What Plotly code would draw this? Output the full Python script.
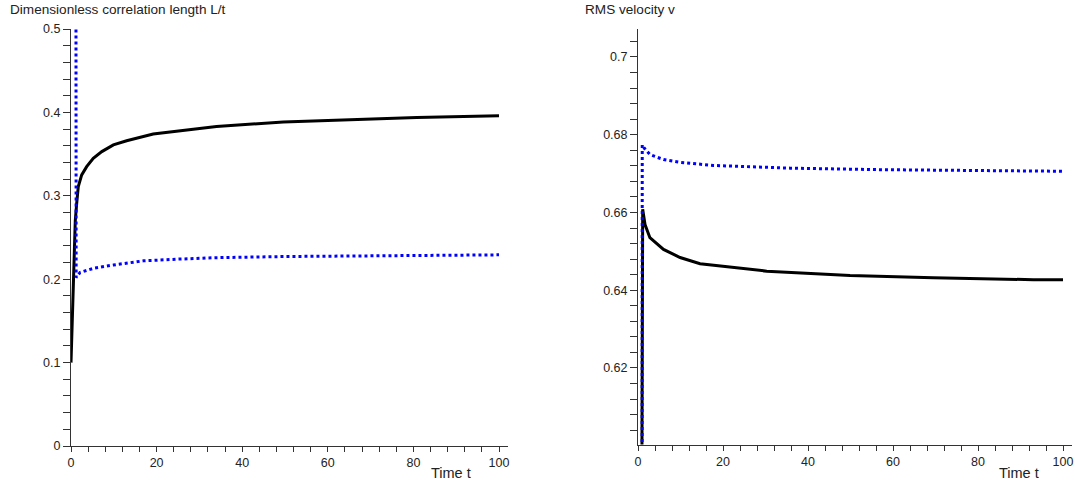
import plotly.graph_objects as go

# ---- Left panel: dimensionless correlation length L/t ----
t_L_black = [0, 0.3, 0.6, 1.0, 1.33, 1.7, 2.5, 3.66, 5.2, 7.2, 9.9, 13, 19.2, 27, 34, 49.6, 65.2, 80.8, 100]
L_black = [0.1, 0.16, 0.22, 0.27, 0.291, 0.311, 0.325, 0.335, 0.345, 0.353, 0.361, 0.366, 0.374, 0.379, 0.383, 0.3885, 0.3917, 0.394, 0.396]

t_L_blue = [1.15, 1.2, 2.1, 5.2, 9.9, 16.9, 24.7, 34, 50, 70, 85, 100]
L_blue = [0.6, 0.202, 0.208, 0.213, 0.217, 0.222, 0.224, 0.2258, 0.2272, 0.2283, 0.2288, 0.2292]

# ---- Right panel: RMS velocity v ----
t_v_black = [0.8, 1.1, 1.65, 2.8, 6, 9.9, 14.6, 30.3, 49.9, 69.5, 93, 100]
v_black = [0.55, 0.6608, 0.6569, 0.6535, 0.6505, 0.6484, 0.6468, 0.6449, 0.6438, 0.6432, 0.6427, 0.6427]

t_v_blue = [0.95, 1.0, 1.5, 2.8, 6, 9.9, 17.7, 29.5, 35.8, 57.7, 80, 100]
v_blue = [0.55, 0.6774, 0.6765, 0.6749, 0.6736, 0.6729, 0.6721, 0.6716, 0.6714, 0.6710, 0.6708, 0.6706]

x_ticks = [0, 20, 40, 60, 80, 100]
x_ticktext = ["0", "20", "40", "60", "80", "100"]
yL_ticks = [0, 0.1, 0.2, 0.3, 0.4, 0.5]
yL_ticktext = ["0", "0.1", "0.2", "0.3", "0.4", "0.5"]
yv_ticks = [0.62, 0.64, 0.66, 0.68, 0.7]
yv_ticktext = ["0.62", "0.64", "0.66", "0.68", "0.7"]

W, H = 1075, 483
BLUE = "#0000ff"
AX = "#333333"
FONT = "Liberation Sans, Arial, sans-serif"

fig = go.Figure()
fig.add_trace(go.Scatter(x=t_L_black, y=L_black, mode="lines", xaxis="x", yaxis="y",
                         line=dict(color="black", width=3), showlegend=False))
fig.add_trace(go.Scatter(x=t_L_blue, y=L_blue, mode="lines", xaxis="x", yaxis="y",
                         line=dict(color=BLUE, width=3, dash="dot"), showlegend=False))
fig.add_trace(go.Scatter(x=t_v_black, y=v_black, mode="lines", xaxis="x2", yaxis="y2",
                         line=dict(color="black", width=3), showlegend=False))
fig.add_trace(go.Scatter(x=t_v_blue, y=v_blue, mode="lines", xaxis="x2", yaxis="y2",
                         line=dict(color=BLUE, width=3, dash="dot"), showlegend=False))

def xaxis(dom, anchor):
    return dict(domain=dom, anchor=anchor, range=[0, 102], tickmode="array",
                tickvals=x_ticks, ticktext=x_ticktext, ticks="outside", ticklen=5,
                tickcolor=AX, showline=True, linecolor=AX, linewidth=1,
                showgrid=False, zeroline=False, automargin=False,
                minor=dict(dtick=4, tick0=0, ticks="outside", ticklen=5, tickcolor=AX, showgrid=False),
                tickfont=dict(size=12.5, color="#222"))

def yaxis(dom, anchor, rng, tv, tt, mdt, m0):
    return dict(domain=dom, anchor=anchor, range=rng, tickmode="array",
                tickvals=tv, ticktext=tt, ticks="outside", ticklen=7,
                tickcolor=AX, showline=True, linecolor=AX, linewidth=1,
                showgrid=False, zeroline=False, automargin=False,
                minor=dict(dtick=mdt, tick0=m0, ticks="outside", ticklen=7, tickcolor=AX, showgrid=False),
                tickfont=dict(size=12.5, color="#222"))

yL_dom = [(H - 446) / H, (H - 29) / H]
yv_dom = [(H - 444.5) / H, (H - 29) / H]

fig.update_layout(
    template="none",
    width=W, height=H,
    margin=dict(l=0, r=0, t=0, b=0, pad=0),
    paper_bgcolor="white", plot_bgcolor="white",
    font=dict(family=FONT, size=12, color="#222"),
    xaxis=xaxis([71 / W, (71 + 102 * 4.28) / W], "y"),
    yaxis=yaxis(yL_dom, "x", [0, 0.5], yL_ticks, yL_ticktext, 0.02, 0),
    xaxis2=xaxis([638 / W, (638 + 102 * 4.25) / W], "y2"),
    yaxis2=yaxis(yv_dom, "x2", [0.6003, 0.7072], yv_ticks, yv_ticktext, 0.004, 0.6),
    annotations=[
        dict(text="Dimensionless correlation length L/t", x=8 / W, y=1 - 10 / H,
             xref="paper", yref="paper", xanchor="left", yanchor="middle",
             showarrow=False, font=dict(size=13.6, color="#222")),
        dict(text="RMS velocity v", x=583 / W, y=1 - 10 / H,
             xref="paper", yref="paper", xanchor="left", yanchor="middle",
             showarrow=False, font=dict(size=13.6, color="#222")),
        dict(text="Time t", x=451 / W, y=1 - 473 / H,
             xref="paper", yref="paper", xanchor="center", yanchor="middle",
             showarrow=False, font=dict(size=14.5, color="#222")),
        dict(text="Time t", x=1019 / W, y=1 - 473 / H,
             xref="paper", yref="paper", xanchor="center", yanchor="middle",
             showarrow=False, font=dict(size=14.5, color="#222")),
    ],
)

fig.write_html("out.html", config={"displayModeBar": False},
               post_script="document.body.style.margin='0';document.body.style.padding='0';document.body.style.overflow='hidden';")
